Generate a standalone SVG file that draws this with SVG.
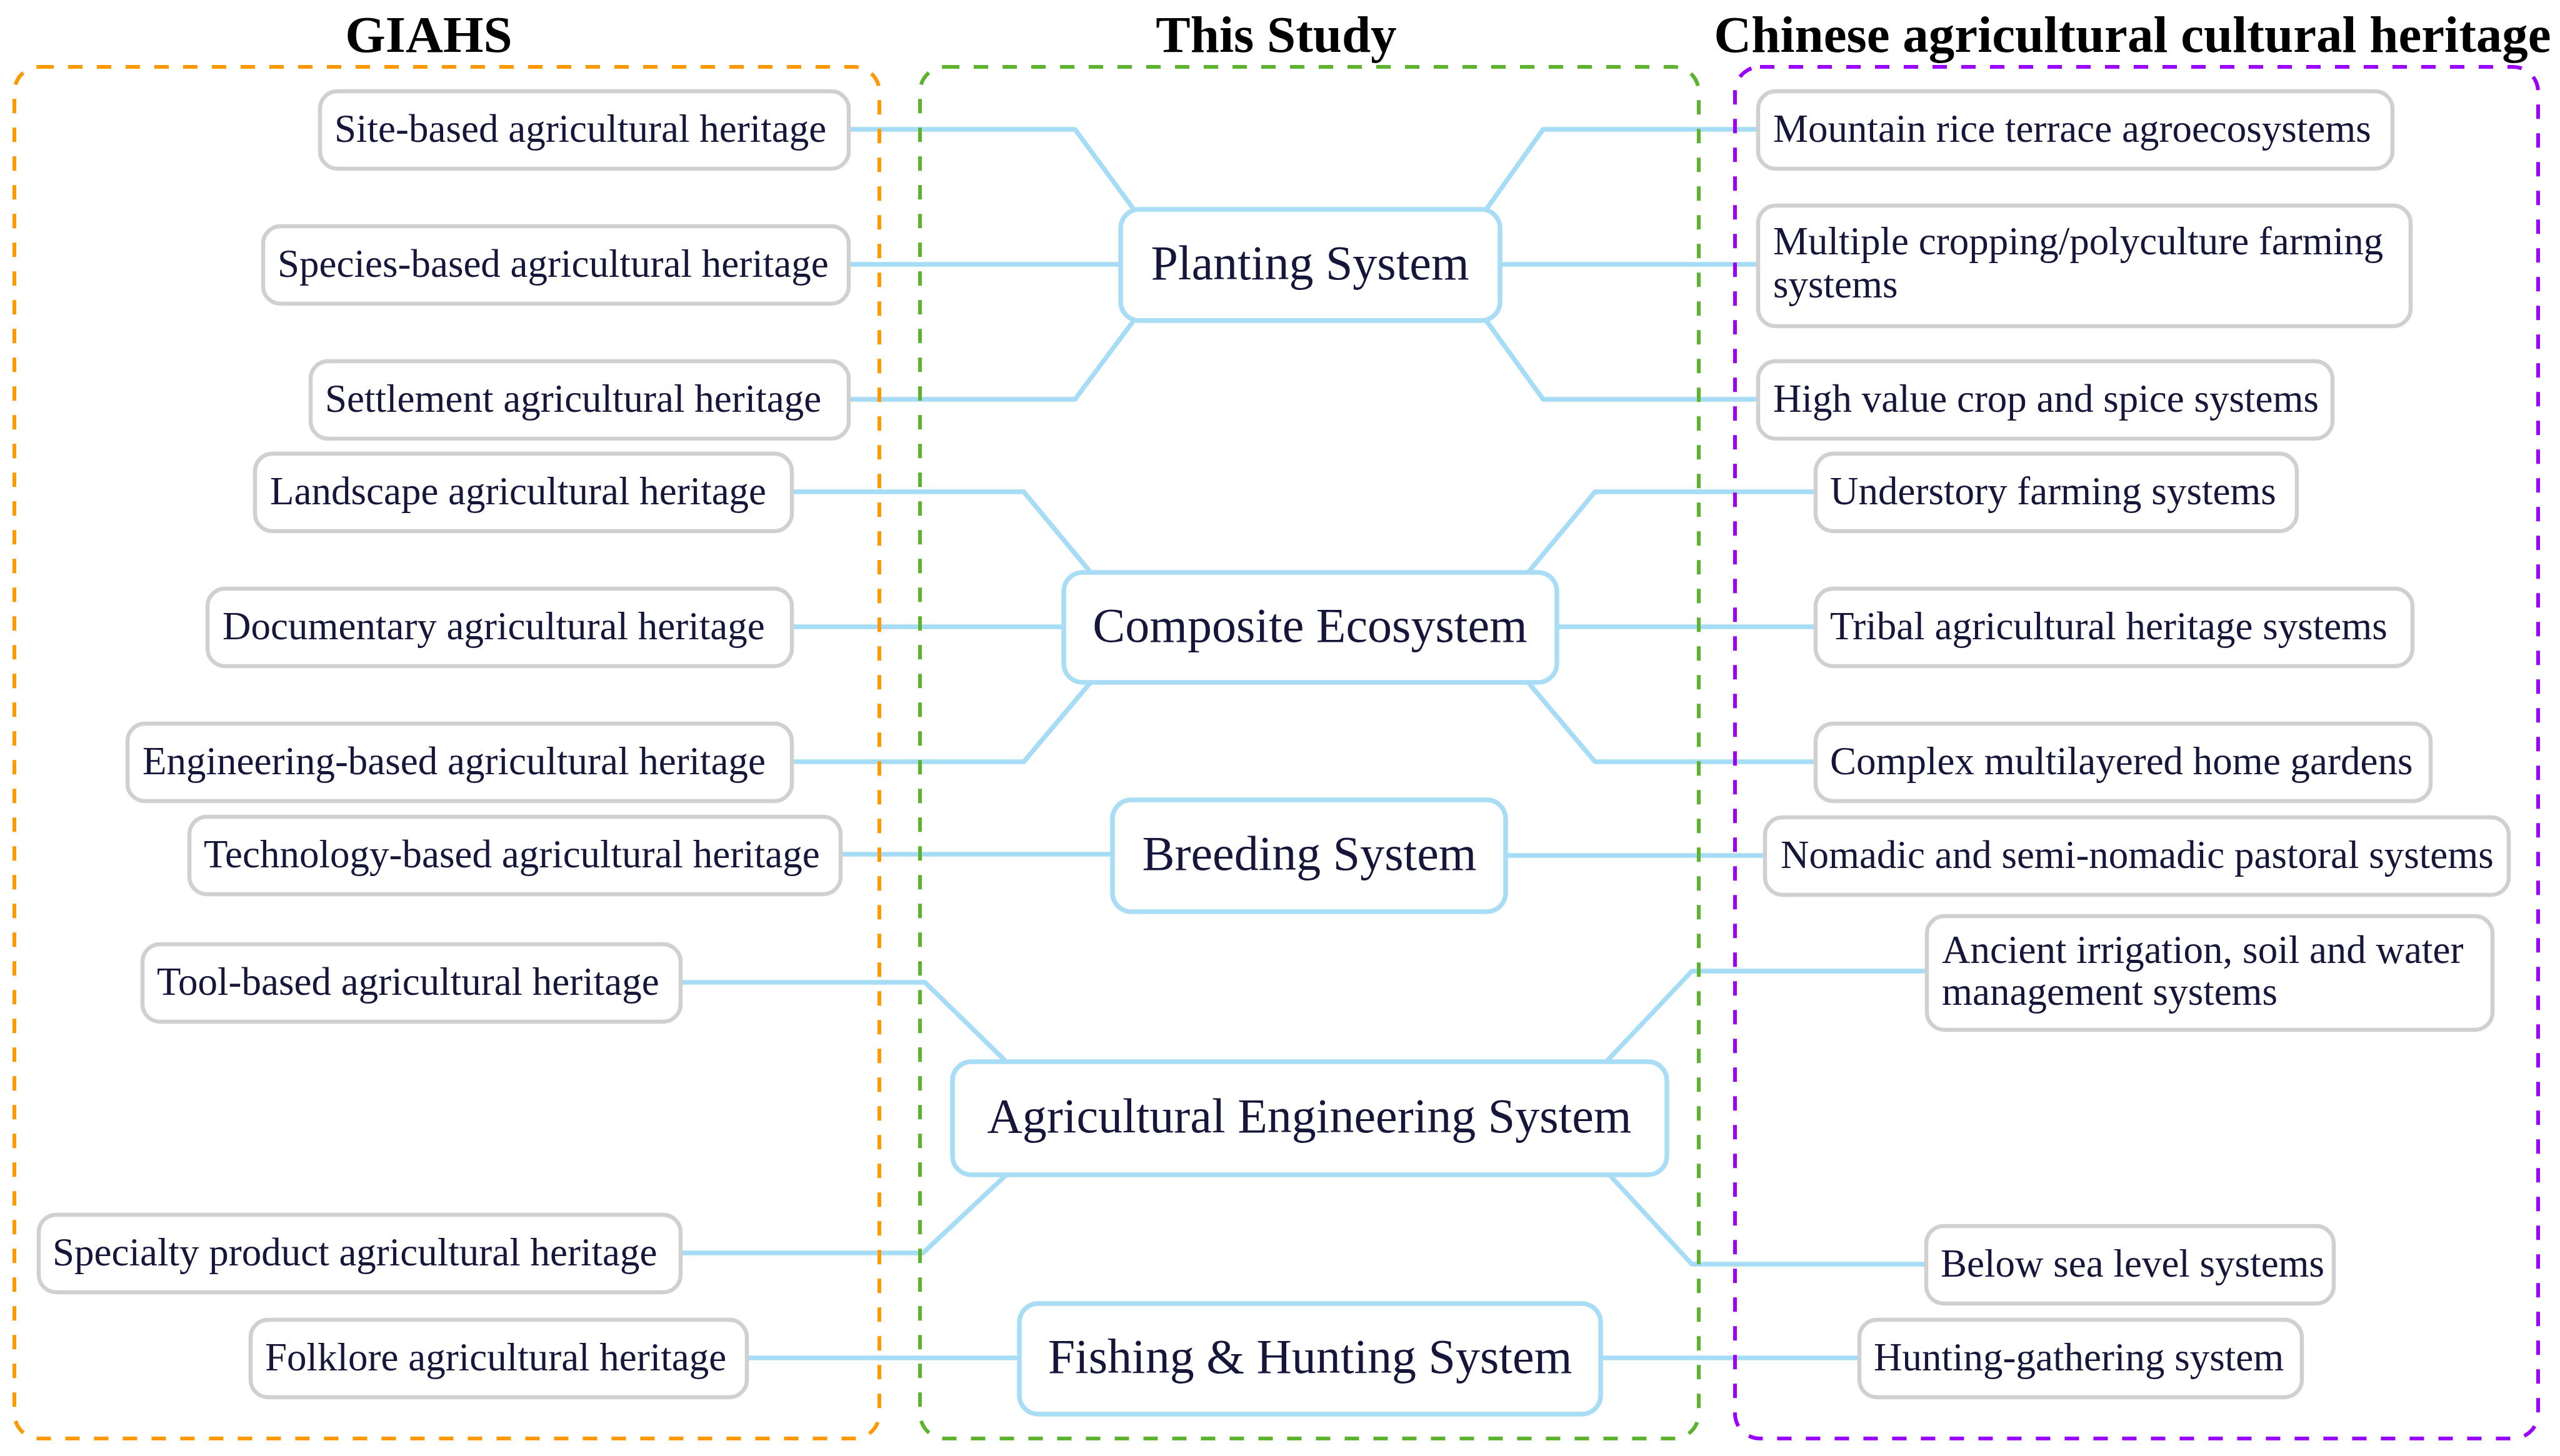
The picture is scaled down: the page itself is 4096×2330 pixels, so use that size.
<svg xmlns="http://www.w3.org/2000/svg" width="4096" height="2330" viewBox="0 0 4096 2330">
<style>
.title{font-family:"Liberation Serif","Times New Roman",serif;font-weight:bold;font-size:83px;fill:#000;text-anchor:middle}
.frame{fill:none;stroke-width:6;stroke-dasharray:23 23}
.leaf rect{fill:#fff;stroke:#D0D0D0;stroke-width:6.5}
.leaf text{font-family:"Liberation Serif","Times New Roman",serif;font-size:63px;fill:#16163A}
.core rect{fill:#fff;stroke:#A9DDF5;stroke-width:7.5}
.core text{font-family:"Liberation Serif","Times New Roman",serif;font-size:78px;fill:#16163A;text-anchor:middle}
#connectors path{fill:none;stroke:#A6DCF5;stroke-width:7.5;stroke-linejoin:round}
</style>
<rect width="4096" height="2330" fill="#fff"/>
<g id="connectors">
<path d="M1361,207 H1720 L1814,335"/>
<path d="M1361,423 H1793"/>
<path d="M1361,639 H1720 L1814,513"/>
<path d="M2378,335 L2469,207 H2810"/>
<path d="M2400,423 H2810"/>
<path d="M2378,513 L2469,639 H2810"/>
<path d="M1270,787 H1638 L1745,916"/>
<path d="M1270,1003 H1702"/>
<path d="M1270,1219 H1638 L1745,1092"/>
<path d="M2445,916 L2552,787 H2902"/>
<path d="M2491,1003 H2902"/>
<path d="M2445,1092 L2552,1219 H2902"/>
<path d="M1348,1367 H1780"/>
<path d="M2409,1369 H2821"/>
<path d="M1092,1572 H1480 L1610,1699"/>
<path d="M1092,2005 H1477 L1610,1880"/>
<path d="M2570,1699 L2707,1554 H3080"/>
<path d="M2575,1880 L2707,2023 H3079"/>
<path d="M1198,2173 H1631"/>
<path d="M2561,2173 H2972"/>
</g>
<g id="frames">
<rect class="frame" x="23" y="107" width="1384" height="2195" rx="40" stroke="#FF9900"/>
<rect class="frame" x="1472" y="107" width="1246" height="2195" rx="40" stroke="#5DB22E"/>
<rect class="frame" x="2776" y="107" width="1285" height="2195" rx="40" stroke="#9900FF"/>
</g>
<g id="titles">
<text class="title" x="686" y="83">GIAHS</text>
<text class="title" x="2042" y="83">This Study</text>
<text class="title" x="3412" y="83">Chinese agricultural cultural heritage</text>
</g>
<g id="n-site" class="leaf"><rect x="512" y="146" width="846" height="124" rx="28"/><text x="535" y="227">Site-based agricultural heritage</text></g>
<g id="n-species" class="leaf"><rect x="421" y="362" width="937" height="124" rx="28"/><text x="444" y="443">Species-based agricultural heritage</text></g>
<g id="n-settlement" class="leaf"><rect x="497" y="578" width="861" height="124" rx="28"/><text x="520" y="659">Settlement agricultural heritage</text></g>
<g id="n-landscape" class="leaf"><rect x="408" y="726" width="859" height="124" rx="28"/><text x="432" y="807">Landscape agricultural heritage</text></g>
<g id="n-documentary" class="leaf"><rect x="332" y="942" width="935" height="124" rx="28"/><text x="356" y="1023">Documentary agricultural heritage</text></g>
<g id="n-engineering" class="leaf"><rect x="204" y="1158" width="1063" height="124" rx="28"/><text x="228" y="1239">Engineering-based agricultural heritage</text></g>
<g id="n-technology" class="leaf"><rect x="303" y="1307" width="1042" height="124" rx="28"/><text x="326" y="1388">Technology-based agricultural heritage</text></g>
<g id="n-tool" class="leaf"><rect x="228" y="1511" width="861" height="124" rx="28"/><text x="251" y="1592">Tool-based agricultural heritage</text></g>
<g id="n-specialty" class="leaf"><rect x="62" y="1944" width="1027" height="124" rx="28"/><text x="84" y="2025">Specialty product agricultural heritage</text></g>
<g id="n-folklore" class="leaf"><rect x="401" y="2112" width="794" height="124" rx="28"/><text x="424" y="2193">Folklore agricultural heritage</text></g>
<g id="n-mountain" class="leaf"><rect x="2813" y="146" width="1015" height="124" rx="28"/><text x="2837" y="227">Mountain rice terrace agroecosystems</text></g>
<g id="n-multiple" class="leaf"><rect x="2813" y="329" width="1044" height="193" rx="28"/><text x="2837" y="407">Multiple cropping/polyculture farming</text><text x="2837" y="476">systems</text></g>
<g id="n-highvalue" class="leaf"><rect x="2813" y="578" width="919" height="124" rx="28"/><text x="2837" y="659">High value crop and spice systems</text></g>
<g id="n-understory" class="leaf"><rect x="2905" y="726" width="770" height="124" rx="28"/><text x="2928" y="807">Understory farming systems</text></g>
<g id="n-tribal" class="leaf"><rect x="2905" y="942" width="955" height="124" rx="28"/><text x="2928" y="1023">Tribal agricultural heritage systems</text></g>
<g id="n-complex" class="leaf"><rect x="2905" y="1158" width="984" height="124" rx="28"/><text x="2928" y="1239">Complex multilayered home gardens</text></g>
<g id="n-nomadic" class="leaf"><rect x="2824" y="1308" width="1190" height="124" rx="28"/><text x="2849" y="1389">Nomadic and semi-nomadic pastoral systems</text></g>
<g id="n-ancient" class="leaf"><rect x="3083" y="1466" width="905" height="182" rx="28"/><text x="3107" y="1541">Ancient irrigation, soil and water</text><text x="3107" y="1608">management systems</text></g>
<g id="n-belowsea" class="leaf"><rect x="3082" y="1962" width="652" height="124" rx="28"/><text x="3105" y="2043">Below sea level systems</text></g>
<g id="n-hunting" class="leaf"><rect x="2975" y="2112" width="708" height="124" rx="28"/><text x="2998" y="2193">Hunting-gathering system</text></g>
<g id="c-planting" class="core"><rect x="1793" y="335" width="607" height="178" rx="30"/><text x="2096" y="447">Planting System</text></g>
<g id="c-composite" class="core"><rect x="1702" y="916" width="789" height="176" rx="30"/><text x="2096" y="1027">Composite Ecosystem</text></g>
<g id="c-breeding" class="core"><rect x="1780" y="1280" width="629" height="179" rx="30"/><text x="2095" y="1392">Breeding System</text></g>
<g id="c-agri" class="core"><rect x="1524" y="1699" width="1143" height="181" rx="30"/><text x="2095" y="1812">Agricultural Engineering System</text></g>
<g id="c-fishing" class="core"><rect x="1631" y="2086" width="930" height="177" rx="30"/><text x="2096" y="2197">Fishing &amp; Hunting System</text></g>
</svg>
